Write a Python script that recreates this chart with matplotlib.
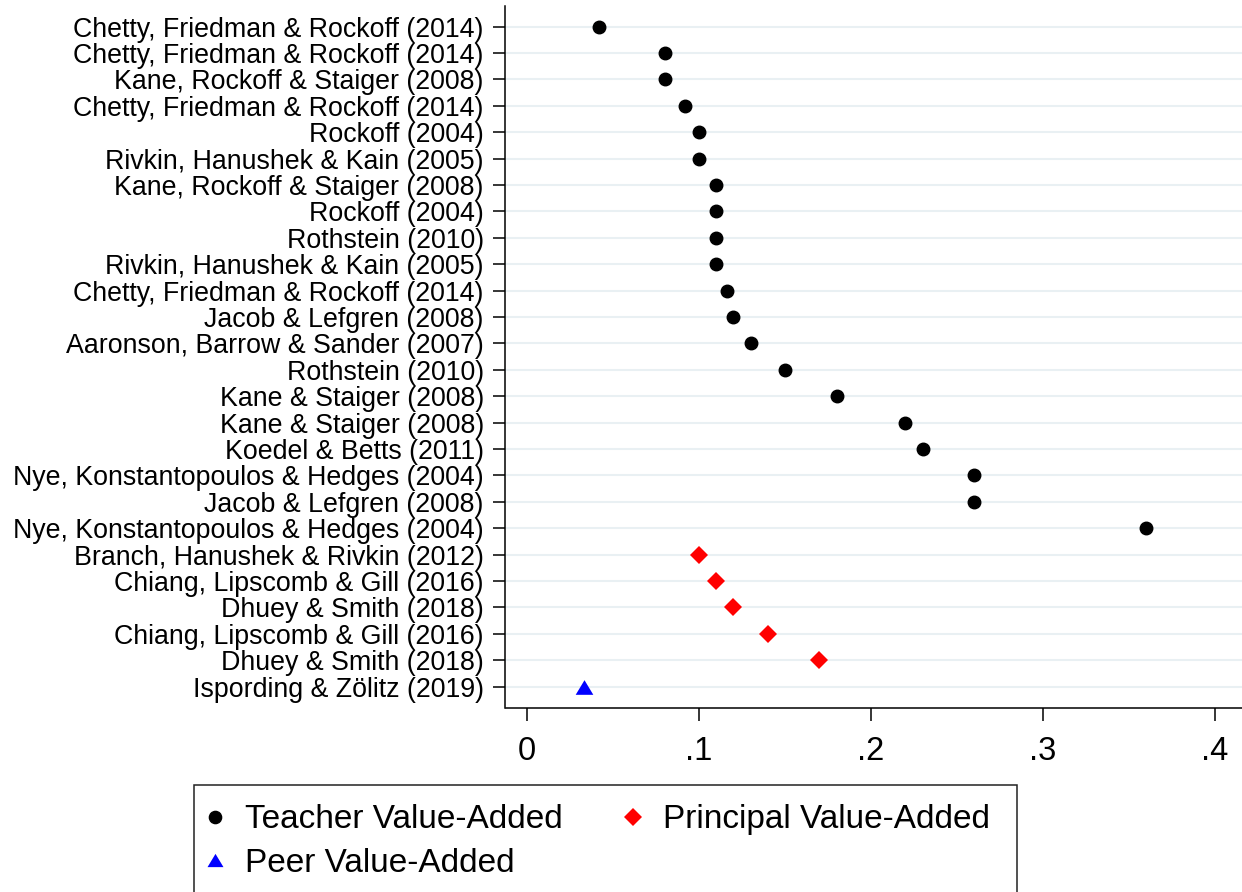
import matplotlib
matplotlib.use("Agg")
import matplotlib.pyplot as plt
import numpy as np
from matplotlib.patches import Rectangle
from matplotlib.lines import Line2D

plt.rcParams['font.family'] = ['Liberation Sans', 'DejaVu Sans']

# ---- data (top to bottom) ----
teacher_labels = [
    "Chetty, Friedman & Rockoff (2014)",
    "Chetty, Friedman & Rockoff (2014)",
    "Kane, Rockoff & Staiger (2008)",
    "Chetty, Friedman & Rockoff (2014)",
    "Rockoff (2004)",
    "Rivkin, Hanushek & Kain (2005)",
    "Kane, Rockoff & Staiger (2008)",
    "Rockoff (2004)",
    "Rothstein (2010)",
    "Rivkin, Hanushek & Kain (2005)",
    "Chetty, Friedman & Rockoff (2014)",
    "Jacob & Lefgren (2008)",
    "Aaronson, Barrow & Sander (2007)",
    "Rothstein (2010)",
    "Kane & Staiger (2008)",
    "Kane & Staiger (2008)",
    "Koedel & Betts (2011)",
    "Nye, Konstantopoulos & Hedges (2004)",
    "Jacob & Lefgren (2008)",
    "Nye, Konstantopoulos & Hedges (2004)",
]
teacher_values = [0.042, 0.08, 0.08, 0.092, 0.10, 0.10, 0.11, 0.11, 0.11, 0.11,
                  0.116, 0.12, 0.13, 0.15, 0.18, 0.22, 0.23, 0.26, 0.26, 0.36]

principal_labels = [
    "Branch, Hanushek & Rivkin (2012)",
    "Chiang, Lipscomb & Gill (2016)",
    "Dhuey & Smith (2018)",
    "Chiang, Lipscomb & Gill (2016)",
    "Dhuey & Smith (2018)",
]
principal_values = [0.10, 0.11, 0.12, 0.14, 0.17]

peer_labels = ["Ispording & Zölitz (2019)"]
peer_values = [0.033]

x_ticks = [0, 0.1, 0.2, 0.3, 0.4]
x_ticklabels = ["0", ".1", ".2", ".3", ".4"]

# ---- layout ----
W, H = 1242, 892
fig = plt.figure(figsize=(W / 100, H / 100), dpi=100)
ax_left, ax_right, ax_top, ax_bottom = 505.5, 1242, 6, 708
ax = fig.add_axes([ax_left / W, 1 - ax_bottom / H,
                   (ax_right - ax_left) / W, (ax_bottom - ax_top) / H])

all_labels = teacher_labels + principal_labels + peer_labels
n_t, n_p, n_e = len(teacher_labels), len(principal_labels), len(peer_labels)
pos_t = np.arange(n_t)
pos_p = np.arange(n_t, n_t + n_p)
pos_e = np.arange(n_t + n_p, n_t + n_p + n_e)
n_all = len(all_labels)

grid_color = '#E9F0F3'
for y in range(n_all):
    ax.axhline(y, color=grid_color, lw=1.5, zorder=0)

tri = [(-1, -0.83), (1, -0.83), (0, 0.83), (-1, -0.83)]

ax.plot(teacher_values, pos_t, 'o', color='black', ms=9, ls='none', zorder=3)
ax.plot(principal_values, pos_p, 'D', color='#FF0000', ms=9.5, mew=0, ls='none', zorder=3)
ax.plot(peer_values, pos_e, marker=tri, color='#0000FF', ms=12.7, mew=0, ls='none', zorder=3)

ax.set_ylim(n_all - 1 + 0.807, -0.784)
ax.set_xlim(-0.0125, 0.4157)

ax.set_yticks(np.arange(n_all))
ax.set_yticklabels(all_labels, fontsize=19.3)
ax.set_xticks(x_ticks)
ax.set_xticklabels(x_ticklabels, fontsize=23.5)

for s in ['top', 'right']:
    ax.spines[s].set_visible(False)
for s in ['left', 'bottom']:
    ax.spines[s].set_linewidth(1.1)
ax.tick_params(axis='y', length=8.6, width=1.1, pad=7)
ax.tick_params(axis='x', length=9.4, width=1.1, pad=10.5)

# ---- legend ----
fig.patches.append(Rectangle((194 / W, 1 - 896 / H), (1017 - 194) / W, (896 - 784.5) / H,
                             transform=fig.transFigure, fill=False, edgecolor='#222222',
                             lw=1.1, zorder=5))
handles = [
    Line2D([], [], marker='o', color='black', ls='none', ms=8.8),
    Line2D([], [], marker=tri, color='#0000FF', ls='none', ms=11.5, mew=0),
    Line2D([], [], marker='D', color='#FF0000', ls='none', ms=8.8, mew=0),
]
labels = ["Teacher Value-Added", "Peer Value-Added", "Principal Value-Added"]
leg = fig.legend(handles, labels, ncol=2, loc='upper left',
                 bbox_to_anchor=(194 / W, 1 - 799.5 / H),
                 frameon=False, fontsize=24, handlelength=1.0,
                 handletextpad=0.4, columnspacing=1.59, borderpad=0.14,
                 labelspacing=0.38, borderaxespad=0)

fig.savefig("out.png", dpi=100, facecolor='white')
